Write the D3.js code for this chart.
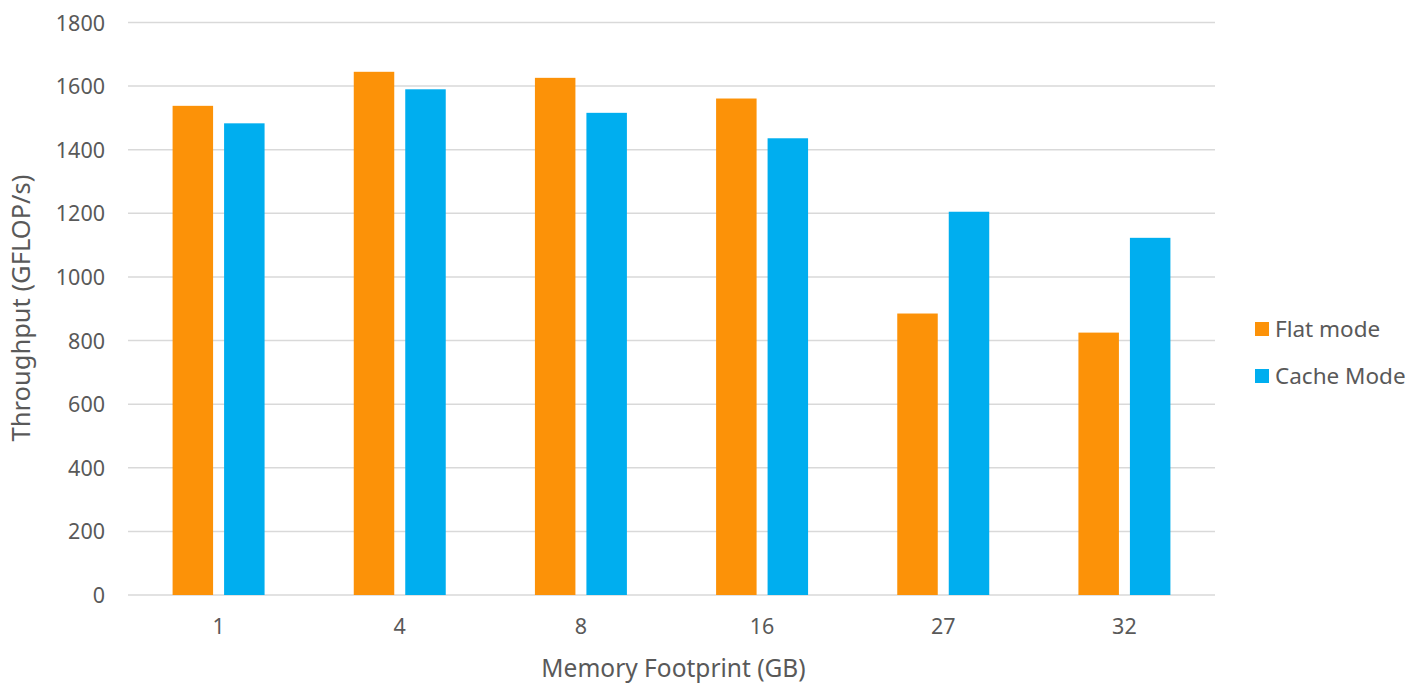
<!DOCTYPE html>
<html><head><meta charset="utf-8">
<script src="https://cdn.jsdelivr.net/npm/d3@7"></script>
<style>body{margin:0;background:#fff;} text{font-family:"Noto Sans","Open Sans",sans-serif;fill:#595959;}</style>
</head><body>
<svg id="c" width="1412" height="683"></svg>
<script>
const categories = ["1","4","8","16","27","32"];
const flatMode = [1538, 1645, 1626, 1561, 885, 825];
const cacheMode = [1483, 1590, 1516, 1436, 1205, 1123];
const yTicks = [0,200,400,600,800,1000,1200,1400,1600,1800];
const seriesNames = ["Flat mode","Cache Mode"];
const colors = ["#FC9208","#00AEEF"];

const svg = d3.select("#c");
const L=128, R=1215, T=22.5, B=595;
const FF = '"Noto Sans","Open Sans",sans-serif';
const x = d3.scaleBand().domain(categories).range([L,R]).paddingInner(0).paddingOuter(0);
const y = d3.scaleLinear().domain([0,1800]).range([B,T]);
const sub = d3.scaleBand().domain([0,1]).range([0,x.bandwidth()]).paddingInner(0.2136).paddingOuter(0.866);

svg.append("g").selectAll("line").data(yTicks).join("line")
 .attr("x1",L).attr("x2",R).attr("y1",d=>y(d)).attr("y2",d=>y(d))
 .attr("stroke","#d9d9d9").attr("stroke-width",1.5);

const series=[flatMode,cacheMode];
series.forEach((vals,si)=>{
 svg.append("g").selectAll("rect").data(vals).join("rect")
  .attr("x",(d,i)=>x(categories[i])+sub(si))
  .attr("width",sub.bandwidth())
  .attr("y",d=>y(d)).attr("height",d=>B-y(d))
  .attr("fill",colors[si]);
});

const ya = d3.axisLeft(y).tickValues(yTicks).tickFormat(d3.format("d")).tickSize(0).tickPadding(0);
const gy = svg.append("g").attr("transform",`translate(${L-23},0)`).call(ya);
gy.select(".domain").remove();
gy.selectAll("text").attr("font-size",21.5).attr("dy","0.35em").style("fill","#595959").style("font-family",FF);

const xa = d3.axisBottom(x).tickSize(0).tickPadding(0);
const gx = svg.append("g").attr("transform",`translate(0,${B+24})`).call(xa);
gx.select(".domain").remove();
gx.selectAll("text").attr("font-size",21.5).attr("dy","0.71em").style("fill","#595959").style("font-family",FF);

svg.append("text").attr("x",(L+R)/2+2).attr("y",677).attr("text-anchor","middle").attr("font-size",24.5).text("Memory Footprint (GB)");
svg.append("text").attr("transform","translate(30,308) rotate(-90)").attr("text-anchor","middle").attr("font-size",25.5).text("Throughput (GFLOP/s)");

const lg = svg.append("g");
seriesNames.forEach((n,i)=>{
 const yy = 329 + i*47;
 lg.append("rect").attr("x",1255).attr("y",yy-7).attr("width",14).attr("height",14).attr("fill",colors[i]);
 lg.append("text").attr("x",1275).attr("y",yy).attr("dy","0.35em").attr("font-size",22.5).text(n);
});
</script>
</body></html>
